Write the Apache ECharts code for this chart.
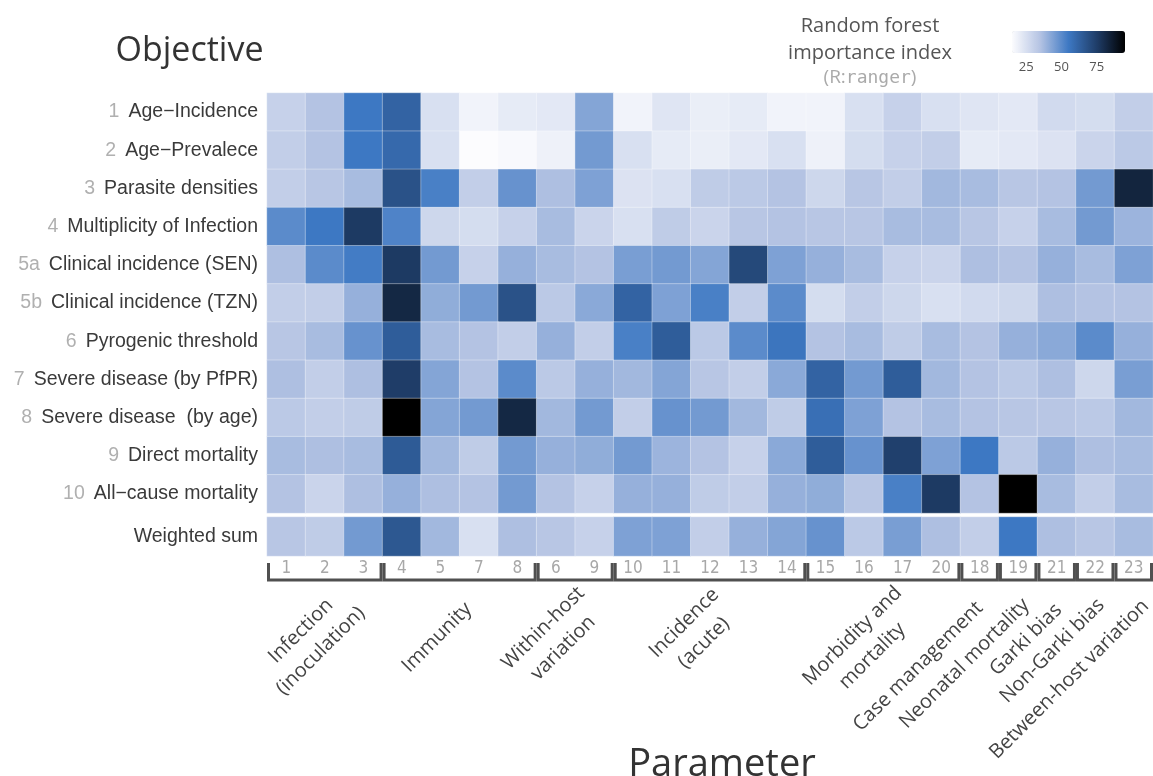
<!DOCTYPE html>
<html>
<head>
<meta charset="utf-8">
<script src="https://cdn.jsdelivr.net/npm/echarts@6/dist/echarts.min.js"></script>
<style>
html,body{margin:0;padding:0;background:#fff;}
#chart{width:1153px;height:776px;}
</style>
</head>
<body>
<div id="chart"></div>
<script>
// ---------- DATA ----------
const colLabels = ['1','2','3','4','5','7','8','6','9','10','11','12','13','14','15','16','17','20','18','19','21','22','23'];
const rowNums = ['1','2','3','4','5a','5b','6','7','8','9','10'];
const rowNames = ['Age\u2212Incidence','Age\u2212Prevalece','Parasite densities','Multiplicity of Infection',
  'Clinical incidence (SEN)','Clinical incidence (TZN)','Pyrogenic threshold','Severe disease (by PfPR)',
  'Severe disease  (by age)','Direct mortality','All\u2212cause mortality'];
const summaryName = 'Weighted sum';

const ageIncidence      = [30,35,55,62,25,18,21,22,43,18,23,20,21,18,18,25,30,25,23,22,27,26,31];
const agePrevalence     = [31,35,55,60,25,15,16,19,46,25,21,20,22,25,19,26,30,31,21,22,24,29,33];
const parasiteDens      = [31,34,37,68,53,31,48,36,44,24,25,32,33,35,28,34,31,38,37,34,35,46,83];
const multiplicity      = [50,55,76,52,28,26,30,37,29,25,32,29,34,35,34,34,37,37,34,30,37,46,39];
const clinicalSEN       = [36,50,54,76,46,30,40,37,35,45,46,43,71,44,40,37,30,29,36,35,40,37,44];
const clinicalTZN       = [31,31,40,82,41,46,68,33,42,62,44,53,31,50,26,31,28,25,27,28,36,35,35];
const pyrogenic         = [34,37,48,64,37,35,31,40,31,53,64,33,50,56,35,37,32,37,35,40,42,50,40];
const severePfPR        = [36,31,36,75,43,35,50,33,40,38,43,34,31,42,62,46,64,38,35,33,36,28,45];
const severeAge         = [33,31,32,95,43,46,82,38,46,31,48,46,38,32,58,44,35,37,35,34,34,33,38];
const directMortality   = [37,36,37,65,38,32,46,40,41,46,39,35,30,42,64,48,74,44,55,33,40,36,37];
const allCauseMortality = [35,29,36,40,36,35,46,35,30,40,40,32,31,40,41,34,53,76,35,95,37,31,37];
const weightedSum       = [34,32,46,66,38,25,36,34,30,44,44,31,40,43,48,33,45,36,31,55,36,34,37];

const objectiveRows = [ageIncidence, agePrevalence, parasiteDens, multiplicity, clinicalSEN, clinicalTZN,
  pyrogenic, severePfPR, severeAge, directMortality, allCauseMortality];

const groupLabels = ['Infection\n(inoculation)','Immunity','Within-host\nvariation','Incidence\n(acute)',
  'Morbidity and\nmortality','Case management','Neonatal mortality','Garki bias','Non-Garki bias','Between-host variation'];
const groupCols = [['1','2','3'],['4','5','7','8'],['6','9'],['10','11','12','13','14'],['15','16','17','20'],
  ['18'],['19'],['21'],['22'],['23']];

const colorTicks = [25,50,75];
const colorMin = 15, colorMax = 95;

// ---------- LAYOUT (not data) ----------
const GRID_LEFT = 267, GRID_TOP = 93, GRID_A_H = 420, GRID_B_TOP = 517, GRID_B_H = 39;
// label placement per group: [mode, dx from group center, y]
const groupLabelLayout = [
  ['c',-14,641],['r',9,606],['c',-22,638],['c',-16,633],['c',-21,646],
  ['r',0,605],['r',8,602],['r',2,607],['r',6,602],['r',12,603]
];

const mainData = [];
objectiveRows.forEach((row, i) => row.forEach((v, j) => mainData.push([j, i, v])));
const sumData = weightedSum.map((v, j) => [j, 0, v]);

const chart = echarts.init(document.getElementById('chart'), null, {renderer: 'canvas'});

const cellStyle = {borderColor: 'rgba(255,255,255,0.35)', borderWidth: 1};
const LBL_FONT = '"Liberation Sans", Arial, sans-serif';

chart.setOption({
  animation: false,
  backgroundColor: '#ffffff',
  grid: [
    {left: GRID_LEFT, right: 0, top: GRID_TOP, height: GRID_A_H},
    {left: GRID_LEFT, right: 0, top: GRID_B_TOP, height: GRID_B_H}
  ],
  xAxis: [
    {type: 'category', gridIndex: 0, data: colLabels, axisLine: {show: false}, axisTick: {show: false},
     axisLabel: {show: false}, splitLine: {show: false}},
    {type: 'category', gridIndex: 1, data: colLabels, axisLine: {show: false}, axisTick: {show: false},
     axisLabel: {show: true, margin: 4, color: '#a8a8a8', fontSize: 17,
       fontFamily: '"Liberation Sans Narrow", "DejaVu Sans Condensed", Roboto, sans-serif'},
     splitLine: {show: false}}
  ],
  yAxis: [
    {type: 'category', gridIndex: 0, data: rowNames, inverse: true, axisLine: {show: false}, axisTick: {show: false},
     axisLabel: {margin: 9, formatter: (v, i) => '{n|' + rowNums[i] + '}{t|' + v + '}',
       rich: {n: {color: '#b0b0b0', fontSize: 19.5, fontFamily: LBL_FONT, padding: [0, 9, 0, 0]},
              t: {color: '#3a3a3a', fontSize: 19.5, fontFamily: LBL_FONT}}}},
    {type: 'category', gridIndex: 1, data: [summaryName], axisLine: {show: false}, axisTick: {show: false},
     axisLabel: {margin: 9, color: '#3a3a3a', fontSize: 19.5, fontFamily: LBL_FONT}}
  ],
  visualMap: {
    type: 'continuous', seriesIndex: [0, 1], min: colorMin, max: colorMax,
    orient: 'horizontal', left: 1012, top: 31, itemWidth: 22, itemHeight: 113,
    padding: 0, calculable: false, text: ['', ''], showLabel: false, hoverLink: false,
    inRange: {color: ['#fcfcfe', '#b4c3e3', '#3d78c3', '#1f3d68', '#000000']}
  },
  series: [
    {type: 'heatmap', xAxisIndex: 0, yAxisIndex: 0, data: mainData, itemStyle: cellStyle,
     emphasis: {disabled: true}, silent: true},
    {type: 'heatmap', xAxisIndex: 1, yAxisIndex: 1, data: sumData, itemStyle: cellStyle,
     emphasis: {disabled: true}, silent: true}
  ]
});

// ---------- annotations computed from the axes ----------
const g = [];
const cx = name => chart.convertToPixel({xAxisIndex: 1}, name);
const cw = cx(colLabels[1]) - cx(colLabels[0]);
const BR_TOP = 563, BR_BOT = 580;
groupCols.forEach((cols, k) => {
  const x0 = cx(cols[0]) - cw / 2 + 1.5;
  const x1 = cx(cols[cols.length - 1]) + cw / 2 - 1.5;
  g.push({type: 'polyline', silent: true,
    shape: {points: [[x0, BR_TOP], [x0, BR_BOT], [x1, BR_BOT], [x1, BR_TOP]]},
    style: {stroke: '#505050', lineWidth: 3, fill: null, lineJoin: 'miter'}});
  const center = (cx(cols[0]) + cx(cols[cols.length - 1])) / 2;
  const lay = groupLabelLayout[k];
  g.push({type: 'text', silent: true, x: center + lay[1], y: lay[2], rotation: Math.PI / 4,
    style: {text: groupLabels[k], font: '20px "Open Sans", sans-serif', fill: '#444444',
      align: lay[0] === 'c' ? 'center' : 'right', verticalAlign: 'middle', lineHeight: 28}});
});

// titles
g.push({type: 'text', silent: true, x: 189.5, y: 51,
  style: {text: 'Objective', font: '34px "Open Sans", sans-serif', fill: '#333333', align: 'center', verticalAlign: 'middle'}});
g.push({type: 'text', silent: true, x: 722, y: 765,
  style: {text: 'Parameter', font: '38px "Open Sans", sans-serif', fill: '#333333', align: 'center', verticalAlign: 'middle'}});

// legend title
g.push({type: 'text', silent: true, x: 870, y: 26,
  style: {text: 'Random forest', font: '20px "Open Sans", sans-serif', fill: '#555555', align: 'center', verticalAlign: 'middle'}});
g.push({type: 'text', silent: true, x: 870, y: 53,
  style: {text: 'importance index', font: '20px "Open Sans", sans-serif', fill: '#555555', align: 'center', verticalAlign: 'middle'}});
g.push({type: 'text', silent: true, x: 870, y: 78,
  style: {text: '{a|(R:}{b|ranger}{a|)}', align: 'center', verticalAlign: 'middle',
    rich: {a: {font: '19px "Open Sans", sans-serif', fill: '#aaaaaa', color: '#aaaaaa'},
           b: {font: '18px "DejaVu Sans Mono", monospace', fill: '#aaaaaa', color: '#aaaaaa'}}}});

// colorbar ticks
const CB_X = 1012, CB_W = 113, CB_Y = 31, CB_H = 22;
colorTicks.forEach(t => {
  const x = CB_X + (t - colorMin) / (colorMax - colorMin) * CB_W;
  g.push({type: 'line', silent: true, shape: {x1: x, y1: CB_Y, x2: x, y2: CB_Y + 3},
    style: {stroke: 'rgba(255,255,255,0.6)', lineWidth: 1}});
  g.push({type: 'line', silent: true, shape: {x1: x, y1: CB_Y + CB_H - 3, x2: x, y2: CB_Y + CB_H},
    style: {stroke: 'rgba(255,255,255,0.6)', lineWidth: 1}});
  g.push({type: 'text', silent: true, x: x, y: 67,
    style: {text: String(t), font: '13px "Open Sans", sans-serif', fill: '#555555', align: 'center', verticalAlign: 'middle'}});
});

chart.setOption({graphic: {elements: g}});
</script>
</body>
</html>
